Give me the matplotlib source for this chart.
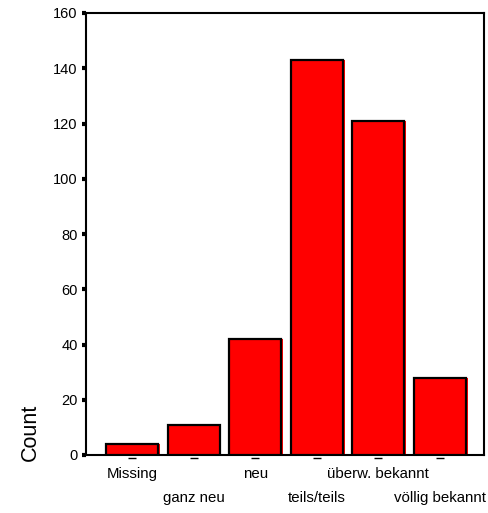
import numpy as np
import matplotlib
matplotlib.use("Agg")
import matplotlib.pyplot as plt

# data
categories = ["Missing", "ganz neu", "neu", "teils/teils", "überw. bekannt", "völlig bekannt"]
counts = [4, 11, 42, 143, 121, 28]
yticks = [0, 20, 40, 60, 80, 100, 120, 140, 160]

plt.rcParams['font.family'] = ['Liberation Sans', 'DejaVu Sans']

fig = plt.figure(figsize=(4.88, 5.13), dpi=100)
ax = fig.add_axes([86/488, 1 - 455/513, 398/488, 442/513])

x = np.arange(len(categories))
w = 0.845
# red shadow strip on the right side of every bar
ax.bar(x + 0.03, counts, width=w, color='#ff0000', linewidth=0, zorder=2)
ax.bar(x, counts, width=w, color='#ff0000', edgecolor='black', linewidth=1.6, zorder=3)

ax.set_xlim(-0.747, 5.714)
ax.set_ylim(0, 160)
ax.set_yticks(yticks)
ax.set_yticklabels([str(v) for v in yticks], fontsize=10.5)
ax.tick_params(axis='y', direction='out', length=3, width=3, pad=3)

ax.set_xticks([])
for i, lab in enumerate(categories):
    ypos = -0.0514 if i % 2 == 0 else -0.1057
    ax.text(x[i], ypos, lab, transform=ax.get_xaxis_transform(),
            ha='center', va='baseline', fontsize=10.8)
# small dash marks under each bar
ax.plot(x, [-3/442]*len(x), linestyle='none', marker='_', markersize=6,
        color='black', markeredgewidth=1, transform=ax.get_xaxis_transform(), clip_on=False)

for s in ax.spines.values():
    s.set_linewidth(1.5)

fig.text(30/488, 1 - 432/513, "Count", rotation=90, ha='center', va='center', fontsize=15.5)

fig.savefig("out.png", dpi=100)
